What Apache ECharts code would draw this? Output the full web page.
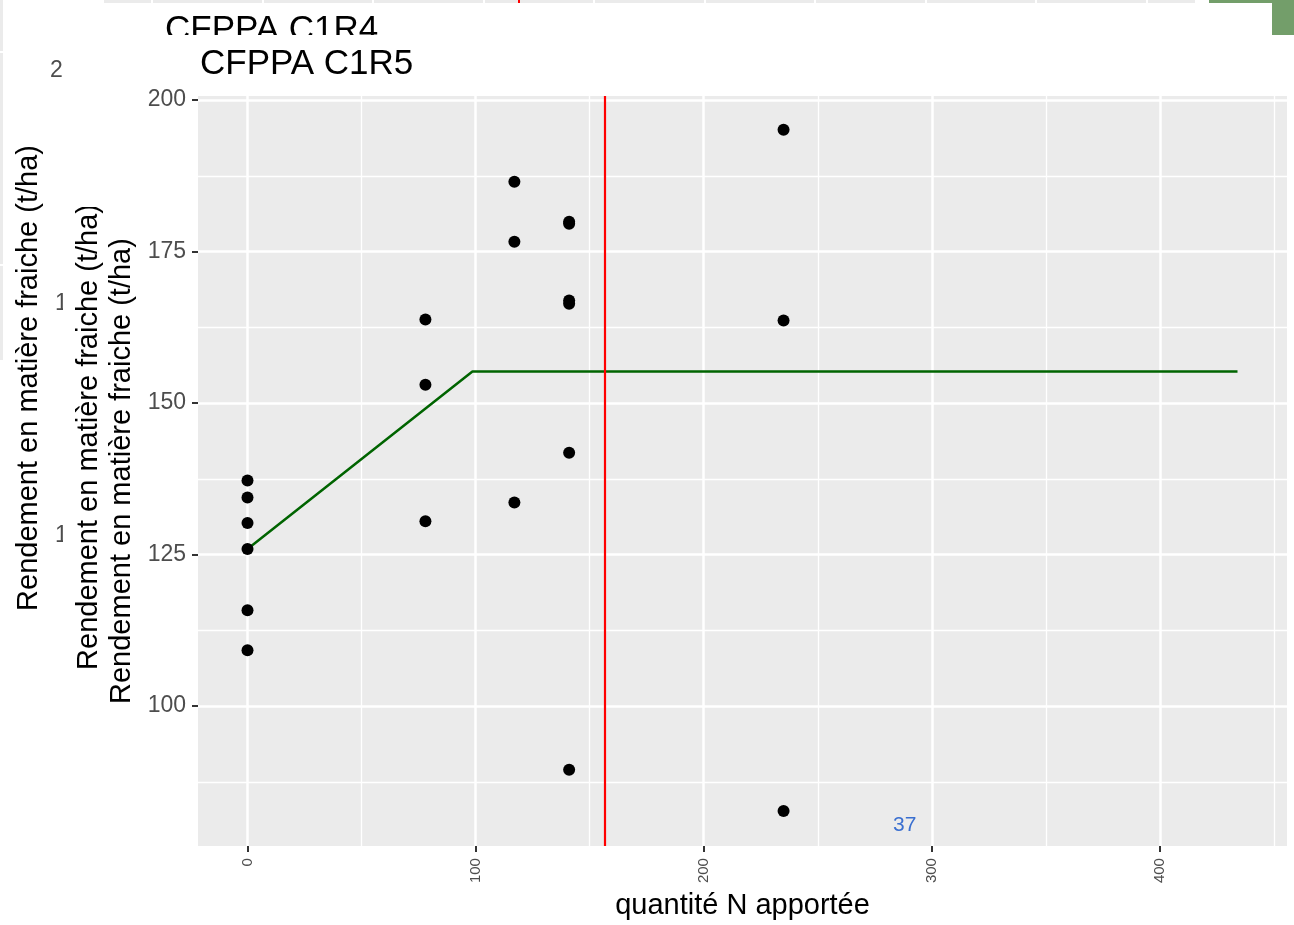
<!DOCTYPE html>
<html>
<head>
<meta charset="utf-8">
<script src="https://cdn.jsdelivr.net/npm/echarts@6/dist/echarts.min.js"></script>
<style>
html,body{margin:0;padding:0;background:#fff;}
#chart{width:1294px;height:925px;}
</style>
</head>
<body>
<div id="chart"></div>
<script>
// ---- data ----
const nRates = [0,0,0,0,0,0, 78,78,78, 117,117,117, 141,141,141,141,141,141, 235,235,235];
const yields = [137.2,134.4,130.2,125.9,115.8,109.2, 163.8,153.0,130.5, 186.5,176.6,133.6, 179.9,179.6,166.9,166.4,141.8,89.5, 195.1,163.6,82.7];
const fitX = [0, 98.6, 434];
const fitY = [125.9, 155.2, 155.2];
const optimumN = 156.8;
const xTicks = [0, 100, 200, 300, 400];
const xMinor = [50, 150, 250, 350, 450];
const yTicks = [100, 125, 150, 175, 200];
const yMinor = [87.5, 112.5, 137.5, 162.5, 187.5];
const xRange = [-21.7, 455.7];
const yRange = [76.9, 200.66];
const titleText = 'CFPPA C1R5';
const prevTitle = 'CFPPA C1R4';
const yName = 'Rendement en matière fraiche (t/ha)';
const xName = 'quantité N apportée';
const pageNum = '37';

const FONT = 'Liberation Sans, Arial, sans-serif';
const chart = echarts.init(document.getElementById('chart'), null, {renderer: 'canvas'});

const scatterData = nRates.map((x, i) => [x, yields[i]]);
const fitData = fitX.map((x, i) => [x, fitY[i]]);

function gridLines(vals, axis, width) {
  return vals.map(v => (axis === 'x' ? {xAxis: v} : {yAxis: v}))
    .map(d => Object.assign(d, {lineStyle: {color: '#ffffff', width: width, type: 'solid'}}));
}

// Background decorations (overlapped slide layers)
const bg = [
  // leftmost chart remnants
  {type: 'rect', z: -30, shape: {x: 0, y: 0, width: 3, height: 360}, style: {fill: '#ebebeb'}},
  {type: 'rect', z: -29, shape: {x: 0, y: 51, width: 3, height: 2}, style: {fill: '#ffffff'}},
  {type: 'rect', z: -29, shape: {x: 0, y: 264, width: 3, height: 2}, style: {fill: '#ffffff'}},
  {type: 'text', z: -30, x: 50, y: 59, style: {text: '200', font: '23px ' + FONT, fill: '#4d4d4d'}},
  {type: 'text', z: -30, x: 55, y: 292, style: {text: '150', font: '23px ' + FONT, fill: '#4d4d4d'}},
  {type: 'text', z: -30, x: 55, y: 524, style: {text: '100', font: '23px ' + FONT, fill: '#4d4d4d'}},
  {type: 'text', z: -30, x: 29, y: 378, rotation: Math.PI / 2,
    style: {text: yName, font: '29px ' + FONT, fill: '#000', align: 'center', verticalAlign: 'middle'}},
  // second layer white background
  {type: 'rect', z: -25, shape: {x: 63, y: 0, width: 1231, height: 925}, style: {fill: '#ffffff'}},
  // top strip of another chart
  {type: 'rect', z: -24, shape: {x: 100, y: 0, width: 1095, height: 3}, style: {fill: '#ebebeb'}},
  ...[151, 262, 372, 483, 593, 704, 814, 925, 1035, 1146].map(x => (
    {type: 'rect', z: -23, shape: {x: x, y: 0, width: 2, height: 3}, style: {fill: '#ffffff'}})),
  {type: 'rect', z: -22, shape: {x: 518, y: 0, width: 2, height: 3}, style: {fill: '#ff0000'}},
  // C1R4 layer
  {type: 'text', z: -20, x: 165, y: 13, style: {text: prevTitle, font: '35px ' + FONT, fill: '#000'}},
  {type: 'text', z: -20, x: 89, y: 437, rotation: Math.PI / 2,
    style: {text: yName, font: '29px ' + FONT, fill: '#000', align: 'center', verticalAlign: 'middle'}},
  {type: 'rect', z: -18, shape: {x: 66, y: 0, width: 38, height: 207}, style: {fill: '#ffffff'}},
  // C1R5 layer white background
  {type: 'rect', z: -15, shape: {x: 104, y: 35, width: 1190, height: 890}, style: {fill: '#ffffff'}},
  // green slide decoration top right
  {type: 'rect', z: -10, shape: {x: 1209, y: 0, width: 85, height: 3}, style: {fill: '#739e6a'}},
  {type: 'rect', z: -10, shape: {x: 1272, y: 0, width: 22, height: 35}, style: {fill: '#739e6a'}},
  // page number
  {type: 'text', z: 50, x: 893, y: 815, style: {text: pageNum, font: '21px ' + FONT, fill: '#3a6fd0'}}
];

const option = {
  backgroundColor: '#ffffff',
  animation: false,
  title: {
    text: titleText, left: 195, top: 42,
    textStyle: {fontFamily: FONT, fontSize: 35, fontWeight: 'normal', color: '#000'}
  },
  graphic: {elements: bg},
  grid: {left: 198, right: 7, top: 96, bottom: 78, show: true, backgroundColor: '#ebebeb', borderWidth: 0, containLabel: false},
  xAxis: {
    type: 'value', min: xRange[0], max: xRange[1],
    name: xName, nameLocation: 'middle', nameGap: 44,
    nameTextStyle: {fontFamily: FONT, fontSize: 29, color: '#000'},
    axisLine: {show: false, onZero: false},
    axisTick: {show: true, length: 6, lineStyle: {color: '#333', width: 2}, customValues: xTicks},
    axisLabel: {customValues: xTicks, rotate: 90, margin: 12, fontFamily: FONT, fontSize: 15, color: '#4d4d4d'},
    splitLine: {show: false}
  },
  yAxis: {
    type: 'value', min: yRange[0], max: yRange[1],
    name: yName, nameLocation: 'middle', nameGap: 61,
    nameTextStyle: {fontFamily: FONT, fontSize: 29, color: '#000'},
    axisLine: {show: false, onZero: false},
    axisTick: {show: true, length: 6, lineStyle: {color: '#333', width: 2}, customValues: yTicks},
    axisLabel: {customValues: yTicks, margin: 12, fontFamily: FONT, fontSize: 23, color: '#4d4d4d'},
    splitLine: {show: false}
  },
  series: [
    {
      type: 'line', data: [], z: 1, silent: true,
      markLine: {
        z: 1, silent: true, symbol: ['none', 'none'], label: {show: false}, animation: false,
        data: [
          ...gridLines(xMinor, 'x', 1.3), ...gridLines(yMinor, 'y', 1.3),
          ...gridLines(xTicks, 'x', 2.5), ...gridLines(yTicks, 'y', 2.5)
        ]
      }
    },
    {
      type: 'line', data: fitData, z: 3, symbol: 'none', silent: true,
      lineStyle: {color: '#006400', width: 2.5}
    },
    {
      type: 'scatter', data: scatterData, z: 4, symbol: 'circle', symbolSize: 12,
      itemStyle: {color: '#000', opacity: 1}, silent: true
    },
    {
      type: 'line', data: [], z: 5, silent: true,
      markLine: {
        z: 6, silent: true, symbol: ['none', 'none'], label: {show: false}, animation: false,
        data: [{xAxis: optimumN, lineStyle: {color: '#ff0000', width: 2.2, type: 'solid'}}]
      }
    }
  ]
};
chart.setOption(option);
</script>
</body>
</html>
